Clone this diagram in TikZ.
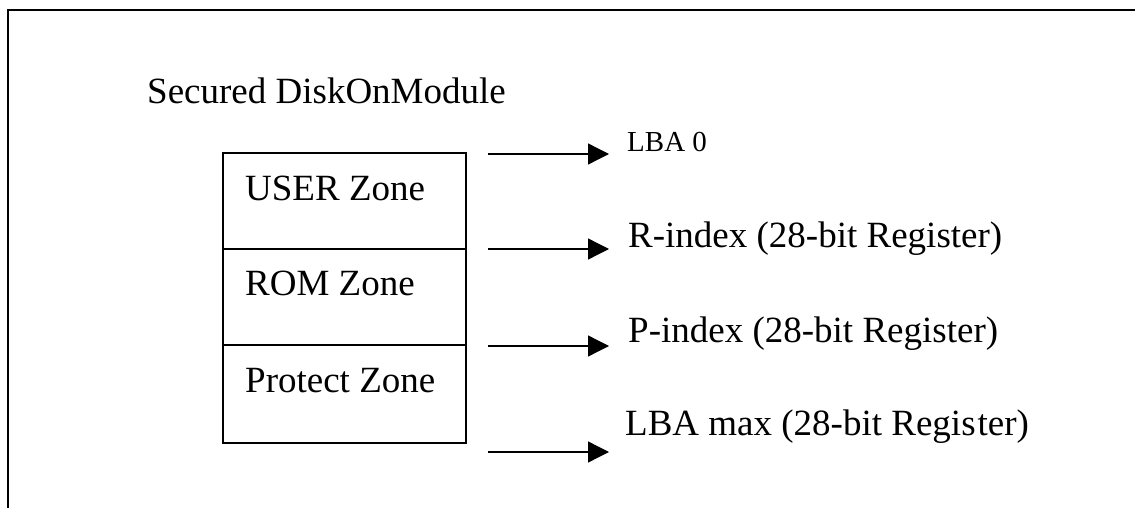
\documentclass[tikz,border=0pt]{standalone}
\usepackage{fontspec}
\setmainfont{Liberation Serif}
\usetikzlibrary{arrows.meta}
\tikzset{
  lbl/.style={anchor=base west, inner sep=0pt, font=\fontsize{37}{40}\selectfont},
  smalllbl/.style={anchor=base west, inner sep=0pt, font=\fontsize{29}{32}\selectfont},
  zonebox/.style={draw, line width=1.2pt, minimum width=243pt, inner sep=0pt, outer sep=0pt, anchor=north west},
  ptr/.style={line width=1.3pt, -{Triangle[length=21pt,width=21pt]}},
  frame/.style={line width=1.8pt}
}
\begin{document}
\begin{tikzpicture}[x=1pt,y=-1pt]
\useasboundingbox (0,0) rectangle (1135,508);
% outer frame (top and left sides only)
\coordinate (fbl) at (8,508);
\coordinate (ftl) at (8,10);
\coordinate (ftr) at (1135,10);
\draw[frame] (fbl) -- (ftl) -- (ftr);
% title
\node[lbl] (title) at (147,104) {Secured DiskOnModule};
% zones
\node[zonebox, minimum height=96pt] (z1) at (223,153) {};
\node[zonebox, minimum height=96pt] (z2) at (223,249) {};
\node[zonebox, minimum height=98pt] (z3) at (223,345) {};
\node[lbl] (t1) at (245,200) {USER Zone};
\node[lbl] (t2) at (245,295) {ROM Zone};
\node[lbl] (t3) at (245,392) {Protect Zone};
% pointers
\coordinate (s1) at (488,154); \coordinate (e1) at (609,154);
\coordinate (s2) at (488,249); \coordinate (e2) at (609,249);
\coordinate (s3) at (488,346); \coordinate (e3) at (609,346);
\coordinate (s4) at (488,452); \coordinate (e4) at (609,452);
\draw[ptr] (s1) -- (e1);
\draw[ptr] (s2) -- (e2);
\draw[ptr] (s3) -- (e3);
\draw[ptr] (s4) -- (e4);
\node[smalllbl] (l1) at (627,152) {LBA 0};
\node[lbl] (l2) at (628,247) {R-index (28-bit Register)};
\node[lbl] (l3) at (628,342) {P-index (28-bit Register)};
\node[lbl] (l4) at (625,435) {LBA max (28-bit Regis\kern2pt ter)};
\end{tikzpicture}
\end{document}
